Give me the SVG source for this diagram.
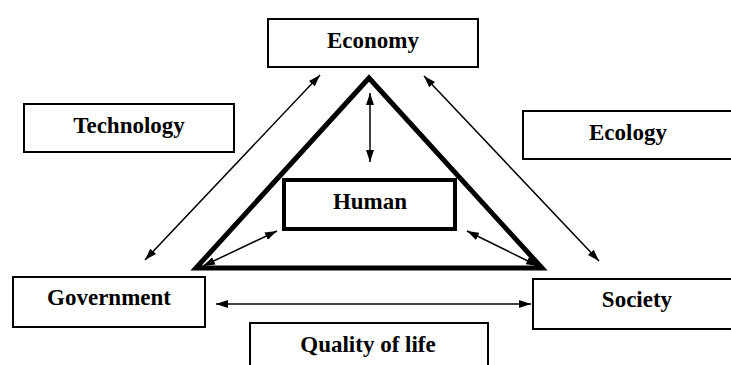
<svg xmlns="http://www.w3.org/2000/svg" width="731" height="365" viewBox="0 0 731 365">
<style>
.box{fill:#fff;stroke:#000;stroke-width:2}
.lbl{font-family:"Liberation Serif","Times New Roman",serif;font-weight:bold;font-size:23px;text-anchor:middle;fill:#000}
.con{stroke:#000;stroke-width:1.5;fill:none;marker-start:url(#ah);marker-end:url(#ah)}
</style>
<defs>
<marker id="ah" viewBox="0 0 12 8" markerWidth="12" markerHeight="8" refX="12" refY="4" orient="auto-start-reverse" markerUnits="userSpaceOnUse">
<path d="M0,0 L12,4 L0,8 z" fill="#000"/>
</marker>
</defs>
<rect width="731" height="365" fill="#fff"/>
<g id="triangle">
<polygon points="369,78 196,268 542,268" fill="none" stroke="#000" stroke-width="5" stroke-linejoin="miter"/>
</g>
<g id="economy"><rect class="box" x="268" y="19" width="210" height="48"/><text class="lbl" x="373" y="48">Economy</text></g>
<g id="technology"><rect class="box" x="24" y="104" width="210" height="48"/><text class="lbl" x="129" y="133">Technology</text></g>
<g id="ecology"><rect class="box" x="523" y="111" width="220" height="48"/><text class="lbl" x="628" y="140">Ecology</text></g>
<g id="human"><rect x="284" y="180" width="171" height="49" fill="#fff" stroke="#000" stroke-width="4"/><text class="lbl" x="370" y="209">Human</text></g>
<g id="government"><rect class="box" x="13" y="277" width="192" height="50"/><text class="lbl" x="109" y="305">Government</text></g>
<g id="society"><rect class="box" x="533" y="279" width="210" height="50"/><text class="lbl" x="637" y="307">Society</text></g>
<g id="quality"><rect class="box" x="250" y="323" width="238" height="60"/><text class="lbl" x="368" y="352">Quality of life</text></g>
<g id="connectors">
<line class="con" x1="320" y1="75" x2="145" y2="260"/>
<line class="con" x1="424" y1="76" x2="599" y2="261"/>
<line class="con" x1="370" y1="93" x2="370" y2="162"/>
<line class="con" x1="277" y1="231" x2="203" y2="266"/>
<line class="con" x1="467" y1="231" x2="538" y2="266"/>
<line class="con" x1="216" y1="304" x2="531" y2="304"/>
</g>
</svg>
